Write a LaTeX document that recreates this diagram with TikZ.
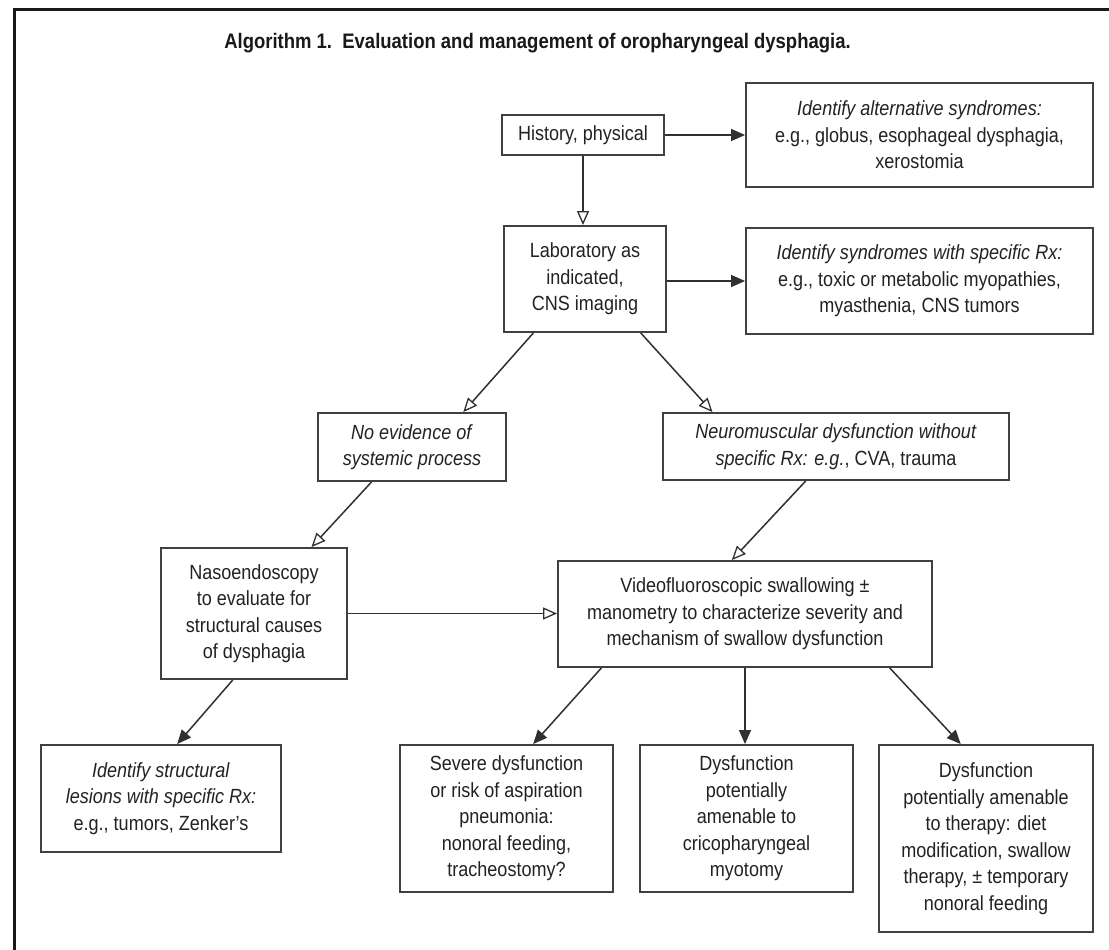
\documentclass[tikz,border=0pt]{standalone}
\usepackage{fontspec}
\setmainfont{Liberation Sans}[FakeStretch=0.88]
\usetikzlibrary{arrows.meta,calc}
\definecolor{boxc}{HTML}{404040}
\definecolor{linec}{HTML}{303030}
\definecolor{txt}{HTML}{222222}
\begin{document}
\begin{tikzpicture}[x=1pt,y=-1pt,
  box/.style={draw=boxc, line width=1.9pt, fill=white, inner sep=0pt, align=center, text=txt,
    font=\fontsize{20.5}{26.5}\selectfont},
  con/.style={draw=linec, line width=1.5pt},
  openhead/.style={-{Triangle[open,length=14pt,width=12pt,line width=1.3pt]}},
  fillhead/.style={-{Triangle[length=14pt,width=12pt]}}]
\fill[white] (0,0) rectangle (1109,950);
\path[use as bounding box] (0,0) rectangle (1109,950);
\draw[line width=3pt, black!90] (14,950) -- (14,10) -- (1109,10);

\node[font=\bfseries\fontsize{21}{25}\selectfont, text=black!90] (title) at (537.5,43)
  {Algorithm 1.\ \ Evaluation and management of oropharyngeal dysphagia.};

\node[box, minimum width=162pt, minimum height=40pt] (hist) at (583,135) {History, physical};
\node[box, minimum width=347pt, minimum height=104pt] (alt) at (919.5,135)
  {\textit{Identify alternative syndromes:}\\e.g., globus, esophageal dysphagia,\\xerostomia};
\node[box, minimum width=162pt, minimum height=106pt] (lab) at (585,279)
  {Laboratory as\\indicated,\\CNS imaging};
\node[box, minimum width=347pt, minimum height=106pt] (rx) at (919.5,281)
  {\textit{Identify syndromes with specific Rx:}\\e.g., toxic or metabolic myopathies,\\myasthenia, CNS tumors};
\node[box, minimum width=188pt, minimum height=68pt] (noev) at (412,447)
  {\textit{No evidence of}\\\textit{systemic process}};
\node[box, minimum width=346pt, minimum height=67pt] (neuro) at (836,446.5)
  {\textit{Neuromuscular dysfunction without}\\\textit{specific Rx: e.g.}, CVA, trauma};
\node[box, minimum width=186pt, minimum height=131pt] (naso) at (254,613.5)
  {Nasoendoscopy\\to evaluate for\\structural causes\\of dysphagia};
\node[box, minimum width=374pt, minimum height=106pt] (video) at (745,614)
  {Videofluoroscopic swallowing ±\\manometry to characterize severity and\\mechanism of swallow dysfunction};
\node[box, minimum width=240pt, minimum height=107pt] (struct) at (161,798.5)
  {\textit{Identify structural}\\\textit{lesions with specific Rx:}\\e.g., tumors, Zenker's};
\node[box, minimum width=213pt, minimum height=147pt] (severe) at (506.5,818.5)
  {Severe dysfunction\\or risk of aspiration\\pneumonia:\\nonoral feeding,\\tracheostomy?};
\node[box, minimum width=213pt, minimum height=147pt] (middle) at (746.5,818.5)
  {Dysfunction\\potentially\\amenable to\\cricopharyngeal\\myotomy};
\node[box, minimum width=214pt, minimum height=187pt] (right) at (986,838.5)
  {Dysfunction\\potentially amenable\\to therapy: diet\\modification, swallow\\therapy, ± temporary\\nonoral feeding};

% connectors
\draw[con, openhead] (hist.south) -- (hist.south |- lab.north);
\draw[con, fillhead] (hist.east) -- (hist.east -| alt.west);
\draw[con, fillhead] ($(lab.east)+(0,2)$) -- ($(lab.east -| rx.west)+(0,2)$);
\draw[con, openhead] ($(lab.south west)!0.185!(lab.south east)$) -- ($(noev.north west)!0.77!(noev.north east)$);
\draw[con, openhead] ($(lab.south west)!0.84!(lab.south east)$) -- ($(neuro.north west)!0.145!(neuro.north east)$);
\draw[con, openhead] ($(noev.south west)!0.287!(noev.south east)$) -- ($(naso.north west)!0.806!(naso.north east)$);
\draw[con, openhead] ($(neuro.south west)!0.413!(neuro.south east)$) -- ($(video.north west)!0.465!(video.north east)$);
\draw[con, openhead] (naso.east) -- (naso.east -| video.west);
\draw[con, fillhead] ($(naso.south west)!0.387!(naso.south east)$) -- ($(struct.north west)!0.567!(struct.north east)$);
\draw[con, fillhead] ($(video.south west)!0.118!(video.south east)$) -- ($(severe.north west)!0.624!(severe.north east)$);
\draw[con, fillhead] (video.south) -- (video.south |- middle.north);
\draw[con, fillhead] ($(video.south west)!0.885!(video.south east)$) -- ($(right.north west)!0.383!(right.north east)$);
\end{tikzpicture}
\end{document}
